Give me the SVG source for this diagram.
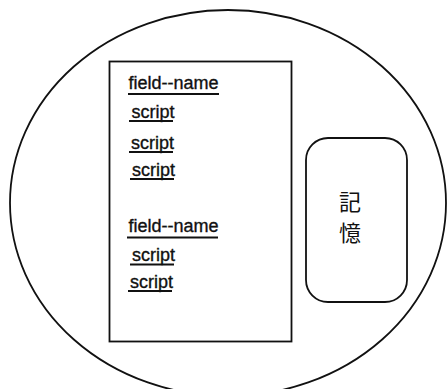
<svg xmlns="http://www.w3.org/2000/svg" width="448" height="389" viewBox="0 0 448 389">
<style>
.ln{fill:none;stroke:#111;stroke-width:1.8}
.t{font-family:"Liberation Sans",Arial,sans-serif;font-size:18px;fill:#111;stroke:#111;stroke-width:0.35}
.u{stroke:#111;stroke-width:2}
.cjk{font-family:"Noto Sans CJK JP","Noto Sans CJK SC",sans-serif;font-size:22px;fill:#111;text-anchor:middle}
</style>
<rect width="448" height="389" fill="#fff"/>
<g id="boundary">
<ellipse class="ln" cx="228" cy="203" rx="218" ry="193"/>
</g>
<g id="list">
<rect class="ln" x="109.5" y="61.5" width="182" height="280" stroke-width="2.2"/>
<text class="t" x="128.5" y="88.5">field--name</text>
<line class="u" x1="128" y1="94" x2="219" y2="94"/>
<text class="t" x="131.5" y="117.5">script</text>
<line class="u" x1="129" y1="121" x2="173" y2="121"/>
<text class="t" x="131" y="148.5">script</text>
<line class="u" x1="129" y1="152" x2="173" y2="152"/>
<text class="t" x="132" y="175.5">script</text>
<line class="u" x1="130" y1="179" x2="174" y2="179"/>
<text class="t" x="128.5" y="231.5">field--name</text>
<line class="u" x1="127" y1="237.5" x2="218" y2="237.5"/>
<text class="t" x="132" y="261">script</text>
<line class="u" x1="130" y1="264.5" x2="174" y2="264.5"/>
<text class="t" x="130" y="287.5">script</text>
<line class="u" x1="128" y1="291" x2="172" y2="291"/>
</g>
<g id="memory">
<rect class="ln" x="306" y="138" width="101" height="164" rx="22" ry="22"/>
<text class="cjk" x="350" y="210">記</text>
<text class="cjk" x="350" y="241">憶</text>
</g>
<g id="connectors"/>
</svg>
